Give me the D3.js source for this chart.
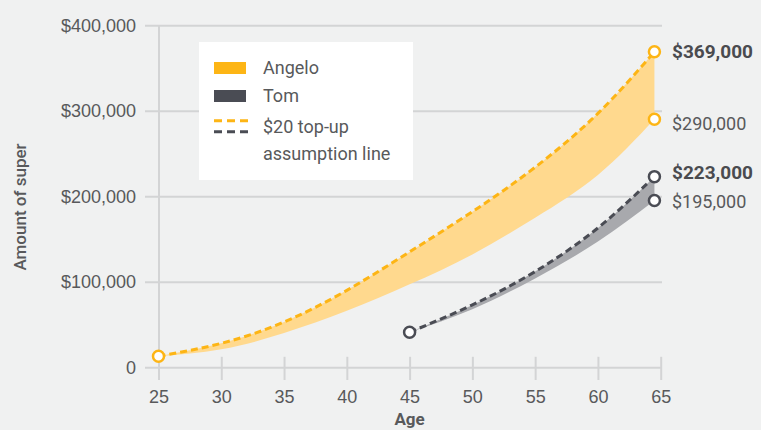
<!DOCTYPE html>
<html>
<head>
<meta charset="utf-8">
<script src="https://cdn.jsdelivr.net/npm/d3@7"></script>
<style>
  html, body { margin: 0; padding: 0; background: #f0f1f1; }
  svg { display: block; font-family: Roboto, "Liberation Sans", sans-serif; }
</style>
</head>
<body>
<svg id="chart" width="761" height="430"></svg>
<script>
// Superannuation balance by age, with and without a $20 weekly top-up
const angeloAges   = [25, 30, 35, 40, 45, 50, 55, 60, 64.5];
const angeloTopUp  = [13000, 28000, 53000, 90000, 135000, 182000, 234000, 297000, 369000];
const angeloBase   = [13000, 21000, 40000, 66000, 97000, 132000, 175000, 225000, 290000];

const tomAges  = [45, 50, 55, 60, 64.5];
const tomTopUp = [41000, 73000, 112000, 163000, 223000];
const tomBase  = [41000, 68000, 104000, 147000, 195000];

const xTicks = [25, 30, 35, 40, 45, 50, 55, 60, 65];
const yTicks = [0, 100000, 200000, 300000, 400000];

const legendItems = ["Angelo", "Tom"];

const C = {
  gold: "#fdb515",
  goldFill: "#ffd98e",
  dark: "#4a4c54",
  greyFill: "#a8a9ad",
  grid: "#d3d4d5",
  text: "#58595b",
  bg: "#f0f1f1"
};

const svg = d3.select("#chart");
svg.append("rect").attr("width", 761).attr("height", 430).attr("fill", C.bg);

const x = d3.scaleLinear().domain([25, 65]).range([158.5, 660.7]);
const y = d3.scaleLinear().domain([0, 400000]).range([367.3, 25.3]);

// Horizontal gridlines + dollar labels
const gridLeft = 145, gridRight = 662;
const yAxis = d3.axisLeft(y)
  .tickValues(yTicks)
  .tickSizeInner(-(gridRight - gridLeft))
  .tickSizeOuter(0)
  .tickPadding(9)
  .tickFormat(d => d === 0 ? "0" : "$" + d3.format(",")(d));
const gy = svg.append("g").attr("transform", `translate(${gridLeft},0)`).call(yAxis);
gy.select(".domain").remove();
gy.selectAll(".tick line").attr("stroke", C.grid).attr("stroke-width", 2);
gy.selectAll(".tick text").attr("fill", C.text).attr("font-size", 18);

// Age axis: short ticks straddling the baseline, full-height line at 25
const xAxis = d3.axisBottom(x).tickValues(xTicks).tickSizeOuter(0).tickSizeInner(0).tickPadding(0);
const gx = svg.append("g").attr("transform", `translate(0,${y(0)})`).call(xAxis);
gx.select(".domain").remove();
gx.selectAll(".tick line")
  .attr("stroke", C.grid).attr("stroke-width", 2)
  .attr("y1", d => d === 25 ? y(400000) - y(0) : -10.5)
  .attr("y2", 12.7);
gx.selectAll(".tick text")
  .attr("fill", C.text).attr("font-size", 18)
  .attr("y", 23).attr("dy", "0.71em");

svg.append("text")
  .attr("x", (x(25) + x(65)) / 2).attr("y", 425)
  .attr("text-anchor", "middle").attr("font-size", 17).attr("font-weight", 700)
  .attr("fill", C.text).text("Age");

svg.append("text")
  .attr("transform", `translate(26,207) rotate(-90)`)
  .attr("text-anchor", "middle").attr("font-size", 17).attr("font-weight", 500)
  .attr("fill", C.text).text("Amount of super");

// Bands and top-up lines
function band(ages, lo, hi) {
  return ages.map((a, i) => ({ age: a, lo: lo[i], hi: hi[i] }));
}
const angelo = band(angeloAges, angeloBase, angeloTopUp);
const tom = band(tomAges, tomBase, tomTopUp);

const area = d3.area().curve(d3.curveNatural)
  .x(d => x(d.age)).y0(d => y(d.lo)).y1(d => y(d.hi));
const topLine = d3.line().curve(d3.curveNatural)
  .x(d => x(d.age)).y(d => y(d.hi));

svg.append("path").datum(angelo).attr("d", area).attr("fill", C.goldFill);
svg.append("path").datum(tom).attr("d", area).attr("fill", C.greyFill);

svg.append("path").datum(angelo).attr("d", topLine)
  .attr("fill", "none").attr("stroke", C.gold).attr("stroke-width", 3)
  .attr("stroke-dasharray", "7,4");
svg.append("path").datum(tom).attr("d", topLine)
  .attr("fill", "none").attr("stroke", C.dark).attr("stroke-width", 3)
  .attr("stroke-dasharray", "7,4");

// End-point markers
function marker(age, v, color) {
  svg.append("circle").attr("cx", x(age)).attr("cy", y(v)).attr("r", 5.5)
    .attr("fill", "#ffffff").attr("stroke", color).attr("stroke-width", 2.5);
}
marker(angeloAges[0], angeloTopUp[0], C.gold);
marker(tomAges[0], tomTopUp[0], C.dark);

const last = angeloAges.length - 1, tlast = tomAges.length - 1;
const endLabels = [
  { age: angeloAges[last], v: angeloTopUp[last], color: C.gold, bold: true, dy: 0 },
  { age: angeloAges[last], v: angeloBase[last], color: C.gold, bold: false, dy: 4 },
  { age: tomAges[tlast], v: tomTopUp[tlast], color: C.dark, bold: true, dy: -4 },
  { age: tomAges[tlast], v: tomBase[tlast], color: C.dark, bold: false, dy: 1 }
];
endLabels.forEach(d => {
  marker(d.age, d.v, d.color);
  svg.append("text")
    .attr("x", 672).attr("y", y(d.v) + d.dy).attr("dy", "0.35em")
    .attr("font-size", d.bold ? 19 : 18).attr("font-weight", d.bold ? 700 : 400)
    .attr("fill", d.bold ? "#4a4b4f" : C.text)
    .text("$" + d3.format(",")(d.v));
});

// Legend
const lg = svg.append("g");
lg.append("rect").attr("x", 199).attr("y", 42).attr("width", 214).attr("height", 138).attr("fill", "#ffffff");
const swatchColors = [C.gold, C.dark];
legendItems.forEach((name, i) => {
  const cy = 68 + i * 28;
  lg.append("rect").attr("x", 214).attr("y", cy - 6).attr("width", 32).attr("height", 12).attr("fill", swatchColors[i]);
  lg.append("text").attr("x", 263).attr("y", cy).attr("dy", "0.35em")
    .attr("font-size", 18).attr("fill", C.text).text(name);
});
[[C.gold, 120.7], [C.dark, 131.7]].forEach(([c, yy]) => {
  lg.append("line").attr("x1", 214).attr("x2", 249).attr("y1", yy).attr("y2", yy)
    .attr("stroke", c).attr("stroke-width", 3).attr("stroke-dasharray", "8,5");
});
lg.append("text").attr("x", 263).attr("y", 126.7).attr("dy", "0.35em")
  .attr("font-size", 18).attr("fill", C.text).text("$20 top-up");
lg.append("text").attr("x", 263).attr("y", 153.3).attr("dy", "0.35em")
  .attr("font-size", 18).attr("fill", C.text).text("assumption line");
</script>
</body>
</html>
